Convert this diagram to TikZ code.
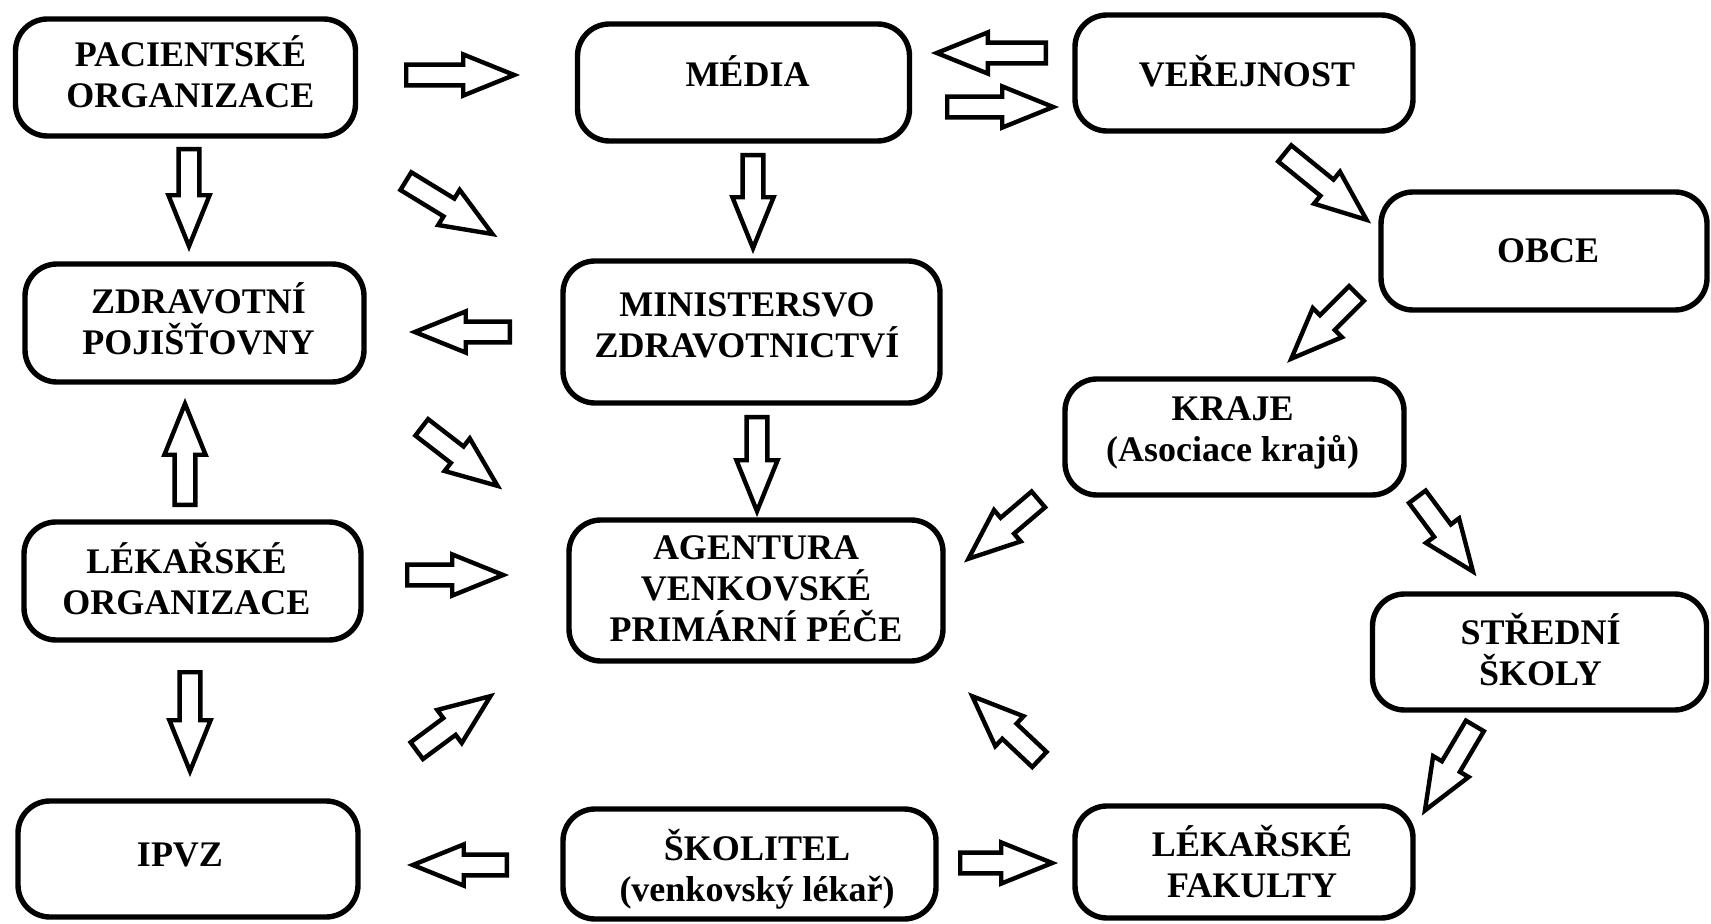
\documentclass[tikz,border=0pt]{standalone}
\usepackage{fontspec}
\setmainfont{Liberation Serif}
\usetikzlibrary{shapes.arrows,calc}
\tikzset{
  box/.style={draw, line width=2.7pt, rounded corners=16pt, inner sep=0pt},
  txt/.style={align=center, font=\fontsize{18}{20.5}\selectfont\bfseries, inner sep=0pt},
  blockarrow/.style={single arrow, draw, fill=white, line width=2.2pt, anchor=tail,
    inner xsep=0pt, inner ysep=4.1pt, minimum width=18.5pt, single arrow head extend=5.1pt,
    single arrow tip angle=44, single arrow head indent=0pt, line join=miter},
}
\newcommand\barr[2]{%
  \path let \p1=(#1), \p2=(#2), \n1={veclen(\x2-\x1,\y2-\y1)-2pt},
    \n2={atan2(\y2-\y1,\x2-\x1)} in
    node[blockarrow, minimum height=\n1, rotate=\n2] at (#1) {};}
\begin{document}
\begin{tikzpicture}[x=0.5pt,y=-0.5pt]
\useasboundingbox (0,0) rectangle (1711,924);
% boxes (centre, size) and their texts
\node[box, minimum width=170pt, minimum height=58.5pt] (pac) at (185.5,77.5) {};
\node[txt] (pact) at ($(pac)+(5,-5.5)$) {PACIENTSKÉ\\ORGANIZACE};
\node[box, minimum width=166pt, minimum height=58.5pt] (media) at (743.5,82.5) {};
\node[txt] (mediat) at ($(media)+(4,-11)$) {MÉDIA};
\node[box, minimum width=169pt, minimum height=58pt] (verej) at (1244,73) {};
\node[txt] (verejt) at ($(verej)+(3,-2)$) {VEŘEJNOST};
\node[box, minimum width=163pt, minimum height=59pt] (obce) at (1544,251) {};
\node[txt] (obcet) at ($(obce)+(4,0)$) {OBCE};
\node[box, minimum width=169.5pt, minimum height=59pt] (zdrav) at (194.5,323) {};
\node[txt] (zdravt) at ($(zdrav)+(4,-4.5)$) {ZDRAVOTNÍ\\POJIŠŤOVNY};
\node[box, minimum width=188.5pt, minimum height=71pt] (minist) at (751.5,332) {};
\node[txt] (ministt) at ($(minist)+(-4.5,-7)$) {MINISTERSVO\\ZDRAVOTNICTVÍ};
\node[box, minimum width=169.5pt, minimum height=58pt] (kraje) at (1234.5,437) {};
\node[txt] (krajet) at ($(kraje)+(-2,-4)$) {KRAJE\\(Asociace krajů)};
\node[box, minimum width=168.5pt, minimum height=59pt] (lekorg) at (192.5,581) {};
\node[txt] (lekorgt) at ($(lekorg)+(-6,-2)$) {LÉKAŘSKÉ\\ORGANIZACE};
\node[box, minimum width=187pt, minimum height=70.5pt] (agent) at (756,590.5) {};
\node[txt] (agentt) at ($(agent)+(0,-2)$) {AGENTURA\\VENKOVSKÉ\\PRIMÁRNÍ PÉČE};
\node[box, minimum width=167pt, minimum height=58pt] (stred) at (1539.5,652) {};
\node[txt] (stredt) at ($(stred)+(1,-2)$) {STŘEDNÍ\\ŠKOLY};
\node[box, minimum width=170pt, minimum height=58pt] (ipvz) at (188,859) {};
\node[txt] (ipvzt) at ($(ipvz)+(-8,-4.5)$) {IPVZ};
\node[box, minimum width=186.5pt, minimum height=55pt] (skol) at (749.5,864) {};
\node[txt] (skolt) at ($(skol)+(7.5,5)$) {ŠKOLITEL\\(venkovský lékař)};
\node[box, minimum width=169pt, minimum height=56pt] (lekfak) at (1244,862) {};
\node[txt] (lekfakt) at ($(lekfak)+(8,0)$) {LÉKAŘSKÉ\\FAKULTY};
% block arrows: tail and tip points
\coordinate (a1s) at (404,75);   \coordinate (a1e) at (516,75);
\coordinate (a2s) at (1048,53);  \coordinate (a2e) at (935,53);
\coordinate (a3s) at (945,107);  \coordinate (a3e) at (1055,107);
\coordinate (a4s) at (189,147);  \coordinate (a4e) at (189,248);
\coordinate (a5s) at (404,180);  \coordinate (a5e) at (494,235);
\coordinate (a6s) at (753,153);  \coordinate (a6e) at (753,250);
\coordinate (a7s) at (512,332);  \coordinate (a7e) at (413,332);
\coordinate (a8s) at (420,426);  \coordinate (a8e) at (499,487);
\coordinate (a9s) at (757,415);  \coordinate (a9e) at (757,513);
\coordinate (a10s) at (1283,152); \coordinate (a10e) at (1368,221);
\coordinate (a11s) at (1358,292); \coordinate (a11e) at (1290,360);
\coordinate (a12s) at (1040,498); \coordinate (a12e) at (967,560);
\coordinate (a13s) at (1416,495); \coordinate (a13e) at (1474,573);
\coordinate (a14s) at (185,507);  \coordinate (a14e) at (185,402);
\coordinate (a15s) at (405,575);  \coordinate (a15e) at (505,575);
\coordinate (a16s) at (190,670);  \coordinate (a16e) at (190,773);
\coordinate (a17s) at (415,752);  \coordinate (a17e) at (492,695);
\coordinate (a18s) at (1041,761); \coordinate (a18e) at (971,695);
\coordinate (a19s) at (1476,724); \coordinate (a19e) at (1424,812);
\coordinate (a20s) at (509,865);  \coordinate (a20e) at (411,865);
\coordinate (a21s) at (958,863);  \coordinate (a21e) at (1054,863);
\foreach \i in {1,...,21}{\barr{a\i s}{a\i e}}
\end{tikzpicture}
\end{document}
